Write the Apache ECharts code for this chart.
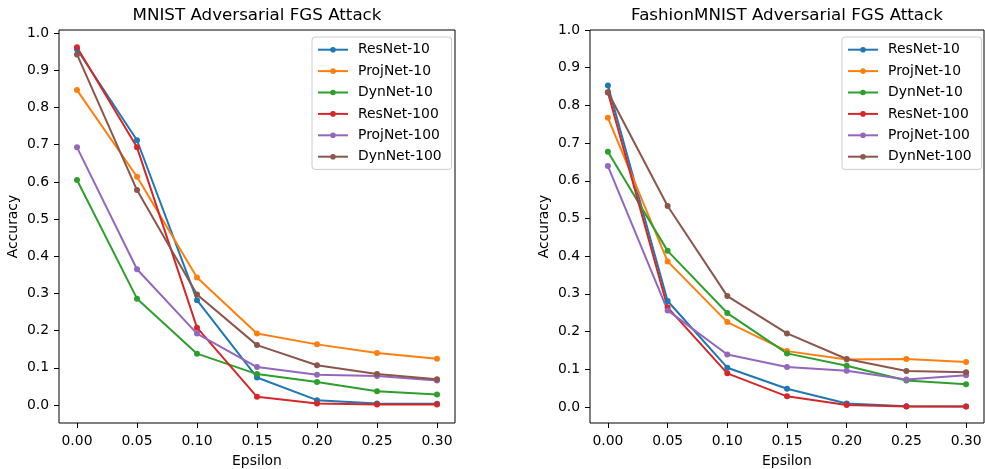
<!DOCTYPE html>
<html>
<head>
<meta charset="utf-8">
<script src="https://cdn.jsdelivr.net/npm/echarts@6/dist/echarts.min.js"></script>
<style>html,body{margin:0;padding:0;background:#fff;}#c{width:985px;height:469px;}</style>
</head>
<body>
<div id="c"></div>
<script>
var epsilons = [0.00, 0.05, 0.10, 0.15, 0.20, 0.25, 0.30];
var seriesNames = ['ResNet-10', 'ProjNet-10', 'DynNet-10', 'ResNet-100', 'ProjNet-100', 'DynNet-100'];
var xTicks = [0.00, 0.05, 0.10, 0.15, 0.20, 0.25, 0.30];
var yTicks = [0.0, 0.1, 0.2, 0.3, 0.4, 0.5, 0.6, 0.7, 0.8, 0.9, 1.0];

// MNIST
var mnistResNet10   = [0.957, 0.712, 0.282, 0.074, 0.013, 0.004, 0.003];
var mnistProjNet10  = [0.847, 0.614, 0.343, 0.192, 0.163, 0.140, 0.124];
var mnistDynNet10   = [0.605, 0.286, 0.138, 0.083, 0.062, 0.037, 0.028];
var mnistResNet100  = [0.962, 0.693, 0.208, 0.022, 0.004, 0.001, 0.001];
var mnistProjNet100 = [0.693, 0.365, 0.192, 0.102, 0.081, 0.078, 0.066];
var mnistDynNet100  = [0.943, 0.578, 0.297, 0.161, 0.107, 0.083, 0.069];

// FashionMNIST
var fashionResNet10   = [0.853, 0.281, 0.104, 0.048, 0.009, 0.002, 0.001];
var fashionProjNet10  = [0.767, 0.386, 0.225, 0.148, 0.126, 0.127, 0.119];
var fashionDynNet10   = [0.677, 0.414, 0.249, 0.142, 0.109, 0.070, 0.060];
var fashionResNet100  = [0.834, 0.264, 0.089, 0.028, 0.005, 0.001, 0.001];
var fashionProjNet100 = [0.639, 0.256, 0.139, 0.106, 0.096, 0.073, 0.084];
var fashionDynNet100  = [0.835, 0.533, 0.294, 0.195, 0.127, 0.095, 0.092];

var colors = ['#1f77b4', '#ff7f0e', '#2ca02c', '#d62728', '#9467bd', '#8c564b'];
var mnistData = [mnistResNet10, mnistProjNet10, mnistDynNet10, mnistResNet100, mnistProjNet100, mnistDynNet100];
var fashionData = [fashionResNet10, fashionProjNet10, fashionDynNet10, fashionResNet100, fashionProjNet100, fashionDynNet100];

var FONT = 'DejaVu Sans';
var FS = 13.9;
var grids = [
  {left: 59, top: 30, width: 396, height: 393},
  {left: 590, top: 30, width: 394, height: 393}
];
var yRanges = [[-0.0485, 1.0086], [-0.0427, 1.0]];

function pairs(vals) {
  return vals.map(function (v, i) { return [epsilons[i], v]; });
}

var series = [];
[mnistData, fashionData].forEach(function (ds, gi) {
  ds.forEach(function (vals, si) {
    series.push({
      type: 'line',
      name: seriesNames[si],
      xAxisIndex: gi, yAxisIndex: gi,
      data: pairs(vals),
      color: colors[si],
      symbol: 'circle', symbolSize: 6,
      showSymbol: true,
      lineStyle: {width: 2},
      animation: false,
      emphasis: {disabled: true}
    });
  });
});

function legendFor(gi, left) {
  return {
    show: true,
    orient: 'vertical',
    left: left, top: 37,
    data: seriesNames.map(function (n) { return {name: n}; }),
    itemWidth: 30, itemHeight: 7, itemGap: 0,
    padding: [2, 10, 2, 5],
    borderColor: '#cccccc', borderWidth: 1, borderRadius: 3,
    backgroundColor: 'rgba(255,255,255,0.8)',
    textStyle: {fontFamily: FONT, fontSize: FS, color: '#000', lineHeight: 21.4, padding: [0, 0, 0, 5]},
    selectedMode: false
  };
}

var option = {
  backgroundColor: '#fff',
  animation: false,
  grid: grids.map(function (g) {
    return {left: g.left, top: g.top, width: g.width, height: g.height, show: true,
      outerBoundsMode: 'none', containLabel: false,
      borderColor: '#000', borderWidth: 1, backgroundColor: 'transparent'};
  }),
  xAxis: grids.map(function (g, i) {
    return {
      type: 'value', gridIndex: i, min: -0.015, max: 0.315,
      name: 'Epsilon', nameLocation: 'middle', nameGap: 31,
      nameTextStyle: {fontFamily: FONT, fontSize: FS, color: '#000'},
      axisLine: {show: false, onZero: false},
      axisTick: {show: true, length: 5, lineStyle: {color: '#000', width: 1}, customValues: xTicks},
      axisLabel: {fontFamily: FONT, fontSize: FS, color: '#000', margin: 11, customValues: xTicks,
        formatter: function (v) { return v.toFixed(2); }},
      splitLine: {show: false}
    };
  }),
  yAxis: grids.map(function (g, i) {
    return {
      type: 'value', gridIndex: i, min: yRanges[i][0], max: yRanges[i][1],
      name: 'Accuracy', nameLocation: 'middle', nameGap: 39,
      nameTextStyle: {fontFamily: FONT, fontSize: FS, color: '#000'},
      axisLine: {show: false, onZero: false},
      axisTick: {show: true, length: 5, lineStyle: {color: '#000', width: 1}, customValues: yTicks},
      axisLabel: {fontFamily: FONT, fontSize: FS, color: '#000', margin: 10, customValues: yTicks,
        formatter: function (v) { return v.toFixed(1); }},
      splitLine: {show: false}
    };
  }),
  legend: [legendFor(0, 312), legendFor(1, 842)],
  graphic: [
    {type: 'text', x: 257, y: 15.5, style: {text: 'MNIST Adversarial FGS Attack', font: '16.7px "DejaVu Sans"', fill: '#000', align: 'center', verticalAlign: 'middle'}},
    {type: 'text', x: 787, y: 15.5, style: {text: 'FashionMNIST Adversarial FGS Attack', font: '16.7px "DejaVu Sans"', fill: '#000', align: 'center', verticalAlign: 'middle'}}
  ],
  series: series
};

var chart = echarts.init(document.getElementById('c'), null, {renderer: 'canvas'});
chart.setOption(option);
</script>
</body>
</html>
